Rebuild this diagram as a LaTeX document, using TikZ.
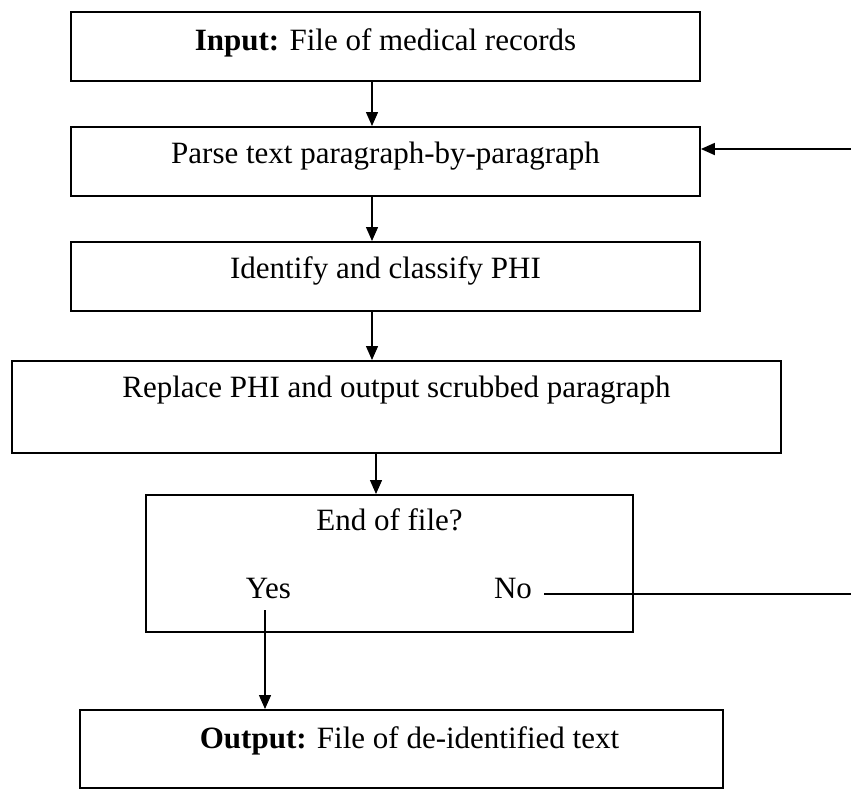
\documentclass[tikz,border=0pt]{standalone}
\usepackage{fontspec}
\setmainfont{Liberation Serif}
\usetikzlibrary{arrows.meta,calc}
\begin{document}
\begin{tikzpicture}[x=1pt,y=-1pt,
  box/.style={draw,line width=1.8pt,inner sep=0pt,anchor=north,
    font=\fontsize{31}{36}\selectfont},
  lbl/.style={inner sep=0pt,anchor=base,font=\fontsize{31}{36}\selectfont},
  arr/.style={line width=1.4pt,-{Triangle[length=14pt,width=12pt]}},
  ln/.style={line width=1.4pt}]
\useasboundingbox (0,0) rectangle (851,788);
\node[box,minimum width=629pt,text height=39pt,text depth=30pt] (b1) at (385.5,11)
  {\textbf{Input:} File of medical records};
\node[box,minimum width=629pt,text height=37pt,text depth=32pt] (b2) at (385.5,126)
  {Parse text paragraph-by-paragraph};
\node[box,minimum width=629pt,text height=37pt,text depth=32pt] (b3) at (385.5,241)
  {Identify and classify PHI};
\node[box,minimum width=769pt,text height=37pt,text depth=55pt] (b4) at (396.5,360)
  {Replace PHI and output scrubbed paragraph};
\node[box,minimum width=487pt,text height=36pt,text depth=101pt] (b5) at (389.5,494)
  {End of file?};
\node[lbl] (yes) at (268.5,598) {Yes};
\node[lbl] (no) at (513,598) {No};
\node[box,minimum width=643pt,text height=39pt,text depth=39pt] (b6) at (401.5,709)
  {\hspace*{16pt}\textbf{Output:} File of de-identified text};
\coordinate (c1) at (372,0);
\coordinate (c2) at (376,0);
\coordinate (ys) at (265,610);
\coordinate (re) at (851,149);
\coordinate (nostart) at (544,594);
\coordinate (noend) at (851,594);
\draw[arr] (b1.south -| c1) -- (b2.north -| c1);
\draw[arr] (b2.south -| c1) -- (b3.north -| c1);
\draw[arr] (b3.south -| c1) -- (b4.north -| c1);
\draw[arr] (b4.south -| c2) -- (b5.north -| c2);
\draw[arr] (ys) -- (ys |- b6.north);
\draw[ln] (nostart) -- (noend);
\draw[arr,line width=1.8pt] (re) -- (re -| b2.east);
\end{tikzpicture}
\end{document}
